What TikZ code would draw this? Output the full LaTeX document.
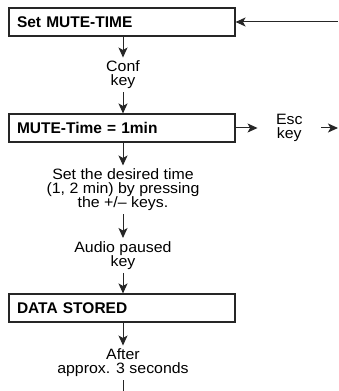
\documentclass[tikz,border=0pt]{standalone}
\usepackage{fontspec}
\setmainfont{Liberation Sans}
\newfontfamily\widesans{Liberation Sans}[FakeStretch=1.06]
\usetikzlibrary{arrows.meta,positioning,calc}
\tikzset{
	menu box/.style={draw, line width=1.1pt, minimum width=226pt, minimum height=28pt,
		text width=210pt, inner xsep=8pt, inner ysep=0pt, align=left,
		font=\bfseries\fontsize{15.5}{13}\selectfont},
	step text/.style={align=center, inner xsep=0pt, inner ysep=3pt,
		font=\widesans\fontsize{15}{14}\selectfont},
	key text/.style={step text, inner xsep=18pt},
	ar/.style={-{Stealth[length=10pt,width=9pt,inset=2.5pt]}},
	flow/.style={line width=1pt, draw=black!85, x=1pt, y=1pt}
}
\begin{document}
\begin{tikzpicture}[flow]
  \useasboundingbox (0,0) rectangle (338,391);
  \node[menu box] (set) at (122,369) {Set MUTE-TIME};
  \node[step text] (conf) at (123,316) {Conf\\key};
  \node[menu box] (mute) at (122,263) {MUTE-Time = 1min};
  \node[key text, right=22pt of mute] (esc) {Esc\\key};
  \node[step text] (choose) at (123,201) {Set the desired time\\(1, 2 min) by pressing\\the +/– keys.};
  \node[step text] (audio) at (123,135.5) {Audio paused\\key};
  \node[menu box] (stored) at (122,83) {DATA STORED};
  \node[step text] (after) at (123,28) {After\\approx. 3 seconds};
  \coordinate (back) at (338,369);
  \coordinate (quit) at (338,263);
  \coordinate (next) at (123,0);
  % main path
  \draw[ar] (set.south -| conf) -- (conf);
  \draw[ar] (conf) -- (mute.north -| conf);
  \draw[ar] (mute.south -| choose) -- (choose);
  \draw[ar] (choose) -- (audio);
  \draw[ar] (audio) -- (stored.north -| audio);
  \draw[ar] (stored.south -| after) -- (after);
  \draw (after) -- (next);
  % side exits
  \draw[ar] (back) -- (set);
  \draw[ar] (mute.east) -- (esc.west);
  \draw[ar] (esc) -- (quit);
\end{tikzpicture}
\end{document}
